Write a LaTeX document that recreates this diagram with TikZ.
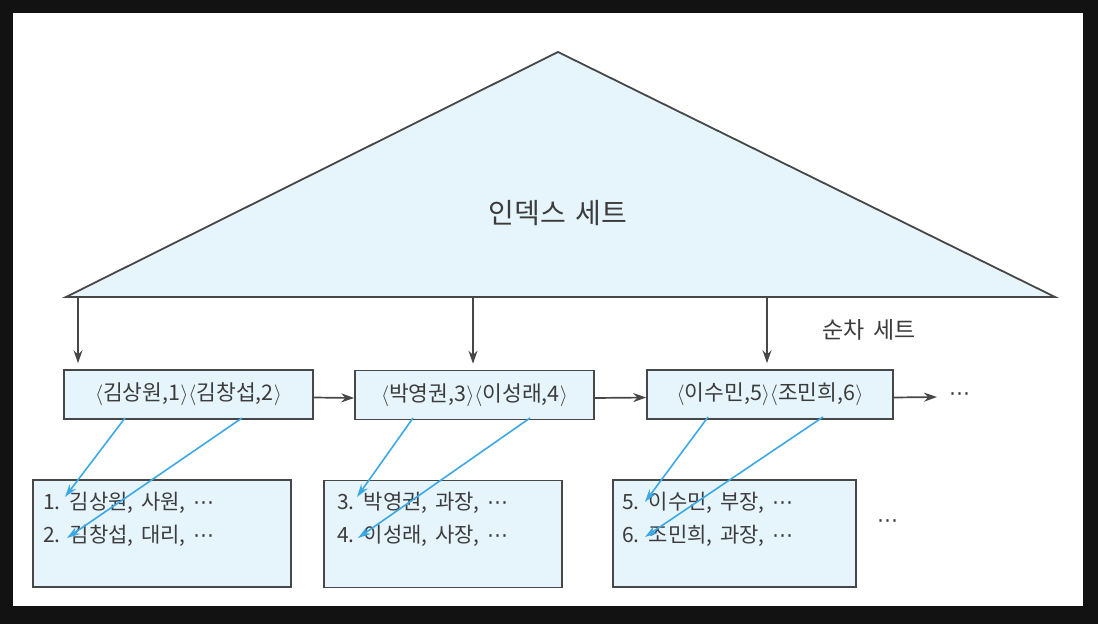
\documentclass[tikz,border=0pt]{standalone}
\usepackage{fontspec}
\setmainfont[WordSpace=1.6]{Noto Sans CJK KR}
\newfontfamily\symfont{DejaVu Sans}
\usepackage{xcolor}
\usepackage{tikz}
\usetikzlibrary{arrows.meta}

\definecolor{boxblue}{HTML}{E6F4FC}
\definecolor{linegray}{HTML}{474747}
\definecolor{textgray}{HTML}{3C3C3C}
\definecolor{ptrblue}{HTML}{3DA9E4}
\newcommand{\keypair}[2]{$\langle$#1,#2$\rangle$}
\newcommand{\more}{{\symfont ⋯}}

\begin{document}
\begin{tikzpicture}[x=1pt,y=-1pt]
	% frame
	\fill[black!93] (0,0) rectangle (1098,624);
	\fill[white] (13,13) rectangle (1083,606);
	
	% index set
	\coordinate (top) at (558,52);
	\coordinate (bl) at (66,297);
	\coordinate (br) at (1055,297);
	\coordinate (i1) at (78,297);
	\coordinate (i2) at (473,297);
	\coordinate (i3) at (767,297);
	\filldraw[fill=boxblue,draw=linegray,line width=1.8pt] (bl) -- (top) -- (br) -- cycle;
	\node[text=textgray,font=\fontsize{28}{32}\selectfont] (idx) at (558,213) {인덱스 세트};
	\node[text=textgray,font=\fontsize{23}{27}\selectfont] (seqlabel) at (869,330) {순차 세트};
	
	\begin{scope}[every node/.style={draw=linegray,line width=1.6pt,fill=boxblue,
			text=textgray,font=\fontsize{21.5}{25}\selectfont,inner sep=0pt}]
		\node[minimum width=249pt,minimum height=49pt] (s1) at (188.5,394.5) {\keypair{김상원}{1}\keypair{김창섭}{2}};
		\node[minimum width=239pt,minimum height=49pt] (s2) at (474.5,395) {\keypair{박영권}{3}\keypair{이성래}{4}};
		\node[minimum width=246pt,minimum height=49pt] (s3) at (770,394.5) {\keypair{이수민}{5}\keypair{조민희}{6}};
		
		\node[minimum width=258pt,minimum height=107pt] (d1) at (162,533.5) {};
		\node[minimum width=238pt,minimum height=107pt] (d2) at (443,534) {};
		\node[minimum width=243pt,minimum height=107pt] (d3) at (734.5,533.5) {};
	\end{scope}
	
	\begin{scope}[every node/.style={anchor=west,inner sep=0pt,text=textgray,
			font=\fontsize{21}{25}\selectfont}]
		\node (r1) at (43,503) {1. 김상원, 사원, \more};
		\node (r2) at (43,536) {2. 김창섭, 대리, \more};
		\node (r3) at (337,503) {3. 박영권, 과장, \more};
		\node (r4) at (337,536) {4. 이성래, 사장, \more};
		\node (r5) at (622,503) {5. 이수민, 부장, \more};
		\node (r6) at (622,536) {6. 조민희, 과장, \more};
		\node (dots1) at (949,397) {\more};
		\node (dots2) at (877,524) {\more};
	\end{scope}
	
	% pointer ends
	\coordinate (k1) at (125,418);
	\coordinate (k2) at (242,418);
	\coordinate (k3) at (413,418);
	\coordinate (k4) at (530,418);
	\coordinate (k5) at (708,417);
	\coordinate (k6) at (823,417);
	\coordinate (p1) at (65,497);
	\coordinate (p2) at (67,538);
	\coordinate (p3) at (357,497);
	\coordinate (p4) at (358,538);
	\coordinate (p5) at (645,502);
	\coordinate (p6) at (645,537);
	
	\begin{scope}[>={Stealth[length=13pt,width=9pt]},line width=1.7pt,draw=linegray]
		\path [->] (i1) edge [shorten >=6pt] (i1 |- s1.north);
		\path [->] (i2) edge [shorten >=6pt] (i2 |- s2.north);
		\path [->] (i3) edge [shorten >=6pt] (i3 |- s3.north);
		\path [->] ([yshift=-3pt]s1.east) edge ([yshift=-3pt]s2.west);
		\path [->] ([yshift=-3pt]s2.east) edge ([yshift=-3pt]s3.west);
		\path [->] ([yshift=-3pt]s3.east) edge ([xshift=-12pt]dots1.west);
	\end{scope}
	
	\begin{scope}[>={Stealth[length=13pt,width=8pt]},line width=1.6pt,draw=ptrblue]
		\path [->] (k1) edge (p1);
		\path [->] (k2) edge (p2);
		\path [->] (k3) edge (p3);
		\path [->] (k4) edge (p4);
		\path [->] (k5) edge (p5);
		\path [->] (k6) edge (p6);
	\end{scope}
\end{tikzpicture}
\end{document}
